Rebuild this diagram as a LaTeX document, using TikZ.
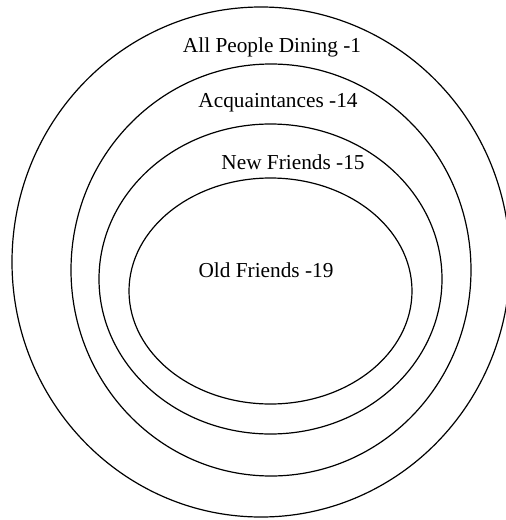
\documentclass[tikz,border=0pt]{standalone}
\usepackage{fontspec}
\setmainfont{Liberation Serif}
\begin{document}
\begin{tikzpicture}[x=1pt,y=-1pt,
  ring/.style={draw=black,line width=1.2pt},
  lbl/.style={font=\fontsize{21.3}{25}\selectfont,inner sep=0pt}]
\useasboundingbox (0,0) rectangle (506,520);
\clip (0,0) rectangle (506,520);
\draw[ring] (261,262) ellipse [x radius=249, y radius=255];
\draw[ring] (271,270) ellipse [x radius=200, y radius=206];
\draw[ring] (270.5,279) ellipse [x radius=171.5, y radius=155];
\draw[ring] (270.5,291) ellipse [x radius=141.5, y radius=113];
\node[lbl] (all) at (272,47) {All People Dining -1};
\node[lbl] (acq) at (278,103) {Acquaintances -14};
\node[lbl] (new) at (293,162) {New Friends -15};
\node[lbl] (old) at (266,270) {Old Friends -19};
\end{tikzpicture}
\end{document}
